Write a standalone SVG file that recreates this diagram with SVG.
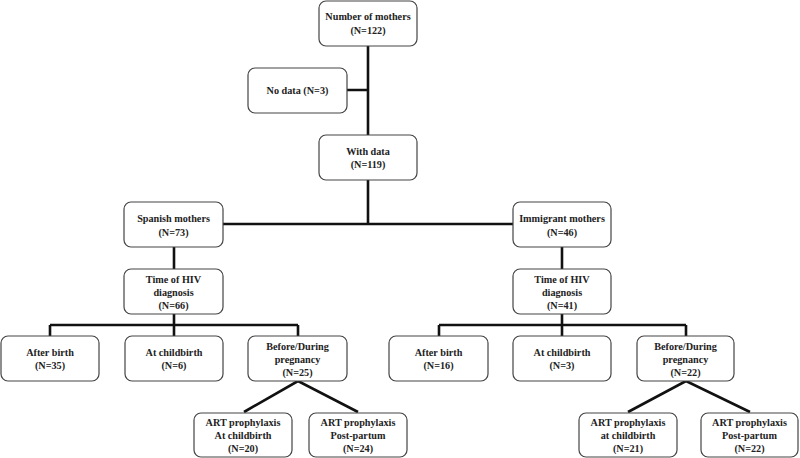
<svg xmlns="http://www.w3.org/2000/svg" width="800" height="458" viewBox="0 0 800 458">
<style>
.box{fill:#fff;stroke:#444;stroke-width:1.2}
text{font-family:"Liberation Serif","Times New Roman",serif;font-weight:bold;font-size:10.2px;fill:#222;text-anchor:middle}
.c{fill:none;stroke:#111;stroke-width:2.6}
</style>
<rect width="800" height="458" fill="#fff"/>
<g id="connectors">
<path class="c" d="M368,46 V135 M347,90 H368 M368,180 V224 M223,224 H513 M174,247 V269 M562,247 V269"/>
<path class="c" d="M174,314 V325 M50,325 H298 M50,325 V336 M174,325 V336 M298,325 V336"/>
<path class="c" d="M562,314 V325 M439,325 H686 M439,325 V336 M562,325 V336 M686,325 V336"/>
<path class="c" d="M244,412 L298,381 L358,412 M628,412 L686,381 L750,412"/>
</g>
<g id="n_total"><rect class="box" x="319" y="1" width="98" height="45" rx="7"/><text x="368" y="20">Number of mothers</text><text x="368" y="34">(N=122)</text></g>
<g id="n_nodata"><rect class="box" x="248" y="68" width="99" height="45" rx="7"/><text x="297.5" y="94">No data (N=3)</text></g>
<g id="n_withdata"><rect class="box" x="319" y="135" width="98" height="45" rx="7"/><text x="368" y="155">With data</text><text x="368" y="168">(N=119)</text></g>
<g id="n_spanish"><rect class="box" x="124" y="202" width="99" height="45" rx="7"/><text x="173.5" y="222">Spanish mothers</text><text x="173.5" y="236">(N=73)</text></g>
<g id="n_immigrant"><rect class="box" x="513" y="202" width="98" height="45" rx="7"/><text x="562" y="222">Immigrant mothers</text><text x="562" y="236">(N=46)</text></g>
<g id="n_s_time"><rect class="box" x="124" y="269" width="99" height="45" rx="7"/><text x="173.5" y="283">Time of HIV</text><text x="173.5" y="296">diagnosis</text><text x="173.5" y="309">(N=66)</text></g>
<g id="n_i_time"><rect class="box" x="513" y="269" width="98" height="45" rx="7"/><text x="562" y="283">Time of HIV</text><text x="562" y="296">diagnosis</text><text x="562" y="309">(N=41)</text></g>
<g id="n_s_after"><rect class="box" x="1" y="336" width="98" height="45" rx="7"/><text x="50" y="356">After birth</text><text x="50" y="369">(N=35)</text></g>
<g id="n_s_at"><rect class="box" x="125" y="336" width="98" height="45" rx="7"/><text x="174" y="356">At childbirth</text><text x="174" y="369">(N=6)</text></g>
<g id="n_s_before"><rect class="box" x="248" y="336" width="99" height="45" rx="7"/><text x="297.5" y="350">Before/During</text><text x="297.5" y="363">pregnancy</text><text x="297.5" y="376">(N=25)</text></g>
<g id="n_i_after"><rect class="box" x="389" y="336" width="99" height="45" rx="7"/><text x="438.5" y="356">After birth</text><text x="438.5" y="369">(N=16)</text></g>
<g id="n_i_at"><rect class="box" x="513" y="336" width="98" height="45" rx="7"/><text x="562" y="356">At childbirth</text><text x="562" y="369">(N=3)</text></g>
<g id="n_i_before"><rect class="box" x="637" y="336" width="97" height="45" rx="7"/><text x="685.5" y="350">Before/During</text><text x="685.5" y="363">pregnancy</text><text x="685.5" y="376">(N=22)</text></g>
<g id="n_s_art_at"><rect class="box" x="194" y="413" width="98" height="44" rx="7"/><text x="243" y="426">ART prophylaxis</text><text x="243" y="439">At childbirth</text><text x="243" y="452">(N=20)</text></g>
<g id="n_s_art_post"><rect class="box" x="309" y="413" width="98" height="44" rx="7"/><text x="358" y="426">ART prophylaxis</text><text x="358" y="439">Post-partum</text><text x="358" y="452">(N=24)</text></g>
<g id="n_i_art_at"><rect class="box" x="579" y="413" width="98" height="44" rx="7"/><text x="628" y="426">ART prophylaxis</text><text x="628" y="439">at childbirth</text><text x="628" y="452">(N=21)</text></g>
<g id="n_i_art_post"><rect class="box" x="701" y="413" width="97" height="44" rx="7"/><text x="749.5" y="426">ART prophylaxis</text><text x="749.5" y="439">Post-partum</text><text x="749.5" y="452">(N=22)</text></g>
</svg>
